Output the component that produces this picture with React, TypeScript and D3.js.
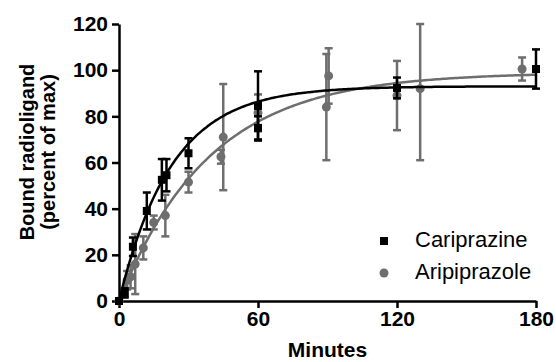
import React, { useRef, useEffect } from 'react';
import * as d3 from 'd3';

// time (min), mean, error (SD)
const cariTime = [0, 2.5, 6, 12, 18.5, 20.5, 30, 60, 60, 120, 180];
const cariMean = [0, 3.5, 23.5, 39, 52.5, 54.5, 64, 84.5, 75, 92.3, 100.5];
const cariErr = [0, 2, 4, 8, 9, 7, 6.5, 15, 5, 4.5, 8.5];

const ariTime = [0, 3.5, 5, 7, 10.5, 15, 20, 30, 44, 45, 60, 89.5, 90.5, 120, 130, 174];
const ariMean = [0, 9, 10.5, 16, 23, 34, 37, 51.5, 62.5, 71, 81.5, 84, 97.5, 89, 92, 100.5];
const ariErr = [0, 4, 5, 13, 5, 3, 9, 4.5, 3, 23, 8, 23, 12, 15, 31, 5];

// one-phase association fit: Ymax * (1 - exp(-k t))
const cariFit = { ymax: 93, k: 0.044 };
const ariFit = { ymax: 99, k: 0.0256 };

const xTicks = [0, 60, 120, 180];
const yTicks = [0, 20, 40, 60, 80, 100, 120];

const BLACK = '#000000';
const GRAY = '#6e6e6e';

function App() {
    const ref = useRef<SVGSVGElement>(null);

    useEffect(() => {
        const svg = d3.select(ref.current);
        svg.selectAll('*').remove();

        const x = d3.scaleLinear().domain([0, 180]).range([119, 536]);
        const y = d3.scaleLinear().domain([0, 120]).range([301, 24]);
        const font = 'Liberation Sans, Arial, sans-serif';

        // axes
        const xAxis = svg.append('g')
            .attr('transform', `translate(0,${y(0)})`)
            .call(d3.axisBottom(x).tickValues(xTicks).tickSize(7).tickPadding(3).tickSizeOuter(0));
        const yAxis = svg.append('g')
            .attr('transform', `translate(${x(0)},0)`)
            .call(d3.axisLeft(y).tickValues(yTicks).tickSize(7).tickPadding(4).tickSizeOuter(0));

        [xAxis, yAxis].forEach(function (g) {
            g.select('.domain').attr('stroke', BLACK).attr('stroke-width', 2.5);
            g.selectAll('.tick line').attr('stroke', BLACK).attr('stroke-width', 2.5);
            g.selectAll('.tick text')
                .attr('fill', BLACK)
                .style('font-family', font)
                .style('font-size', '21px')
                .style('font-weight', 'bold');
        });

        svg.append('text')
            .attr('x', (x(0) + x(180)) / 2)
            .attr('y', 357)
            .attr('text-anchor', 'middle')
            .style('font-family', font)
            .style('font-size', '21px')
            .style('font-weight', 'bold')
            .text('Minutes');

        const yl = svg.append('text')
            .attr('transform', 'translate(0,152) rotate(-90)')
            .attr('text-anchor', 'middle')
            .style('font-family', font)
            .style('font-size', '20px')
            .style('font-weight', 'bold');
        yl.append('tspan').attr('x', 0).attr('y', 34).text('Bound radioligand');
        yl.append('tspan').attr('x', 0).attr('y', 55).text('(percent of max)');

        const series = [
            { name: 'Cariprazine', t: cariTime, m: cariMean, e: cariErr, fit: cariFit, color: BLACK, shape: 'square' },
            { name: 'Aripiprazole', t: ariTime, m: ariMean, e: ariErr, fit: ariFit, color: GRAY, shape: 'circle' },
        ];

        // draw aripiprazole first so cariprazine sits on top
        [series[1], series[0]].forEach(function (s) {
            const pts = s.t.map(function (t, i) { return { t: t, m: s.m[i], e: s.e[i] }; });
            const g = svg.append('g');

            // error bars
            pts.filter(function (d) { return d.e > 0; }).forEach(function (d) {
                const hi = y(Math.min(d.m + d.e, 120));
                const lo = y(Math.max(d.m - d.e, 0));
                const cx = x(d.t);
                g.append('line').attr('x1', cx).attr('x2', cx).attr('y1', hi).attr('y2', lo)
                    .attr('stroke', s.color).attr('stroke-width', 2.5);
                [hi, lo].forEach(function (yy) {
                    g.append('line').attr('x1', cx - 4).attr('x2', cx + 4).attr('y1', yy).attr('y2', yy)
                        .attr('stroke', s.color).attr('stroke-width', 2.5);
                });
            });

            // fitted curve
            const grid = d3.range(0, 180.5, 1);
            const line = d3.line<number>()
                .x(function (t) { return x(t); })
                .y(function (t) { return y(s.fit.ymax * (1 - Math.exp(-s.fit.k * t))); })
                .curve(d3.curveMonotoneX);
            g.append('path').datum(grid)
                .attr('d', line)
                .attr('fill', 'none')
                .attr('stroke', s.color)
                .attr('stroke-width', 2.5);

            // markers
            pts.forEach(function (d) {
                if (s.shape === 'square') {
                    g.append('rect').attr('x', x(d.t) - 4).attr('y', y(d.m) - 4)
                        .attr('width', 8).attr('height', 8).attr('fill', s.color);
                } else {
                    g.append('circle').attr('cx', x(d.t)).attr('cy', y(d.m)).attr('r', 4.5)
                        .attr('fill', s.color);
                }
            });
        });

        // legend
        const legend = svg.append('g');
        series.forEach(function (s, i) {
            const ly = 241 + i * 32;
            if (s.shape === 'square') {
                legend.append('rect').attr('x', 380).attr('y', ly - 4).attr('width', 8).attr('height', 8).attr('fill', s.color);
            } else {
                legend.append('circle').attr('cx', 384).attr('cy', ly).attr('r', 4.5).attr('fill', s.color);
            }
            legend.append('text')
                .attr('x', 415)
                .attr('y', ly + 6)
                .style('font-family', font)
                .style('font-size', '22px')
                .attr('fill', BLACK)
                .text(s.name);
        });
    }, []);

    return (
        <svg ref={ref} width={556} height={362} style={{ position: 'absolute', left: 0, top: 0, background: '#fff' }} />
    );
}

export default App;
